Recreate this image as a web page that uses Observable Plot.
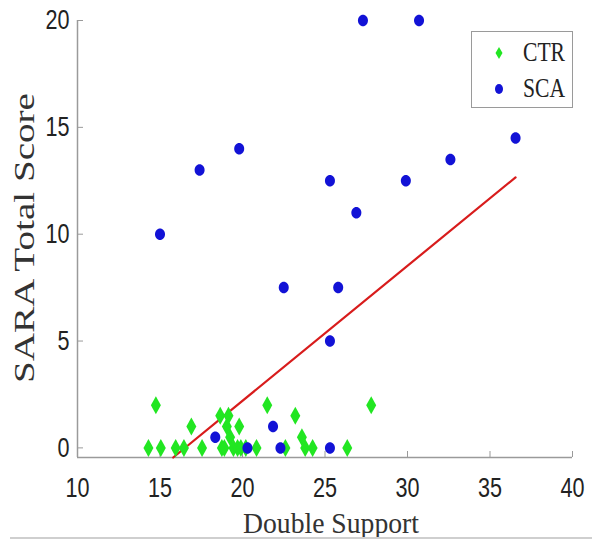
<!DOCTYPE html>
<html><head><meta charset="utf-8">
<script src="https://cdn.jsdelivr.net/npm/d3@7"></script>
<script src="https://cdn.jsdelivr.net/npm/@observablehq/plot@0.6"></script>
<style>
body{margin:0;background:#fff;}
#wrap{position:relative;width:598px;height:544px;overflow:hidden;background:#fff;}
#chart{position:absolute;left:0;top:0;}
#legend{position:absolute;left:471px;top:31px;width:102px;height:77px;border:1px solid #9a9a9a;background:#fff;box-sizing:border-box;font-family:"Liberation Serif","DejaVu Serif",serif;font-size:27px;color:#222;}
#legend .sw{position:absolute;}
#legend .lab{position:absolute;left:51px;transform:scaleX(0.8);transform-origin:left center;line-height:27px;white-space:nowrap;}
#baseline{position:absolute;left:10px;right:6px;top:537px;height:2px;background:#cfcfcf;}
</style></head>
<body><div id="wrap"><div id="chart"></div><div id="legend"></div><div id="baseline"></div></div>
<script>
// ---- data ----
const seriesNames = ["CTR", "SCA"];
const ctrX = [14.3, 14.75, 15.05, 15.95, 16.45, 16.9, 17.55, 18.65, 18.75, 18.9, 19.05, 19.15, 19.25, 19.45, 19.7, 19.8, 19.9, 20.2, 20.85, 21.5, 22.6, 23.2, 23.6, 23.8, 24.25, 26.35, 27.8];
const ctrY = [0,    2,     0,     0,     0,     1,    0,     1.5,   0,     0,    1,     1.5,   0.5,   0,     0,    1,    0,    0,    0,     2,    0,    1.5,  0.5,  0,    0,     0,     2];
const scaX = [15.0, 17.4, 19.8, 27.3, 30.7, 25.3, 26.9, 29.9, 32.6, 36.55, 22.5, 25.8, 25.3, 21.85, 18.35, 20.3, 22.3, 25.3];
const scaY = [10,   13,   14,   20,   20,   12.5, 11,   12.5, 13.5, 14.5,  7.5,  7.5,  5,    1,     0.5,   0,    0,    0];
const fitX = [15.8, 36.55];
const fitY = [-0.45, 12.66];
const xTicks = [10, 15, 20, 25, 30, 35, 40];
const yTicks = [0, 5, 10, 15, 20];
const xDomain = [10, 40];
const yDomain = [-0.45, 20];
const xLabel = "Double Support";
const yLabel = "SARA Total Score";
const colors = {CTR: "#22e622", SCA: "#1212d6", fit: "#d81c1c", axis: "#9a9a9a"};

// ---- tables built from the arrays ----
const ctr = ctrX.map((x, i) => ({x, y: ctrY[i]}));
const sca = scaX.map((x, i) => ({x, y: scaY[i]}));
const fit = fitX.map((x, i) => ({x, y: fitY[i]}));

// custom symbols: tall diamond and slightly tall ellipse
const tallDiamond = {draw(ctx, size) {
  const r = Math.sqrt(size / Math.PI), w = r, h = r * 1.8;
  ctx.moveTo(0, -h); ctx.lineTo(w, 0); ctx.lineTo(0, h); ctx.lineTo(-w, 0); ctx.closePath();
}};
const tallEllipse = {draw(ctx, size) {
  const r = Math.sqrt(size / Math.PI), rx = r, ry = r * 1.15, k = 0.5523;
  ctx.moveTo(rx, 0);
  ctx.bezierCurveTo(rx, ry * k, rx * k, ry, 0, ry);
  ctx.bezierCurveTo(-rx * k, ry, -rx, ry * k, -rx, 0);
  ctx.bezierCurveTo(-rx, -ry * k, -rx * k, -ry, 0, -ry);
  ctx.bezierCurveTo(rx * k, -ry, rx, -ry * k, rx, 0);
  ctx.closePath();
}};

const tickFont = "'Liberation Sans',Arial,sans-serif";
const titleFont = "'Liberation Serif','DejaVu Serif',serif";

const plot = Plot.plot({
  width: 598,
  height: 544,
  marginLeft: 77,
  marginRight: 26,
  marginTop: 20,
  marginBottom: 87,
  style: {background: "white", overflow: "visible"},
  x: {domain: xDomain},
  y: {domain: yDomain},
  marks: [
    Plot.ruleX([xDomain[0]], {stroke: colors.axis, strokeWidth: 1.5}),
    Plot.ruleY([yDomain[0]], {stroke: colors.axis, strokeWidth: 1.5}),
    Plot.axisX(xTicks, {tickSize: -6, tickPadding: 26, stroke: colors.axis, fill: "#222", fontSize: 27, fontFamily: tickFont, label: null}),
    Plot.axisY(yTicks, {tickSize: -6, tickPadding: 14, stroke: colors.axis, fill: "#222", fontSize: 27, fontFamily: tickFont, label: null}),
    Plot.line(fit, {x: "x", y: "y", stroke: colors.fit, strokeWidth: 2.2}),
    Plot.dot(ctr, {x: "x", y: "y", r: 5, symbol: tallDiamond, fill: colors.CTR, stroke: "none"}),
    Plot.dot(sca, {x: "x", y: "y", r: 5, symbol: tallEllipse, fill: colors.SCA, stroke: "none"}),
    Plot.text([xLabel], {frameAnchor: "bottom", lineAnchor: "bottom", dy: 75, dx: 6, fontSize: 30, fontFamily: titleFont, fill: "#333"}),
    Plot.text([yLabel], {frameAnchor: "left", lineAnchor: "bottom", rotate: -90, dx: -44, dy: -1, fontSize: 30, fontFamily: titleFont, fill: "#333"})
  ]
});
document.getElementById("chart").appendChild(plot);

// fit the titles to the reference's measured lengths (start-anchored)
d3.select(plot).selectAll("text").each(function() {
  const t = this.textContent;
  if (t === xLabel) d3.select(this).attr("text-anchor", "start").attr("x", -88).attr("textLength", 176).attr("lengthAdjust", "spacingAndGlyphs");
  if (t === yLabel) d3.select(this).attr("text-anchor", "start").attr("x", -145).attr("textLength", 290).attr("lengthAdjust", "spacingAndGlyphs");
});
// narrow the tick labels horizontally, as in the reference
d3.select(plot).selectAll("g[aria-label='x-axis tick label'] text, g[aria-label='y-axis tick label'] text").each(function() {
  const tr = this.getAttribute("transform") || "";
  this.setAttribute("transform", tr + " scale(0.8,1)");
});

// legend (HTML) built from the series names and colours
const legend = document.getElementById("legend");
const rows = [{name: seriesNames[0], cy: 21, shape: "diamond"}, {name: seriesNames[1], cy: 57, shape: "circle"}];
rows.forEach(r => {
  const sw = document.createElementNS("http://www.w3.org/2000/svg", "svg");
  sw.setAttribute("width", 14); sw.setAttribute("height", 16);
  sw.setAttribute("class", "sw");
  sw.style.left = "20px"; sw.style.top = (r.cy - 8) + "px";
  if (r.shape === "diamond") {
    sw.innerHTML = `<path d="M7,2L10.5,8L7,14L3.5,8Z" fill="${colors.CTR}"/>`;
  } else {
    sw.innerHTML = `<ellipse cx="7" cy="8" rx="4" ry="5" fill="${colors.SCA}"/>`;
  }
  legend.appendChild(sw);
  const lab = document.createElement("div");
  lab.className = "lab";
  lab.textContent = r.name;
  lab.style.top = (r.cy - 14) + "px";
  legend.appendChild(lab);
});
</script>
</body></html>
